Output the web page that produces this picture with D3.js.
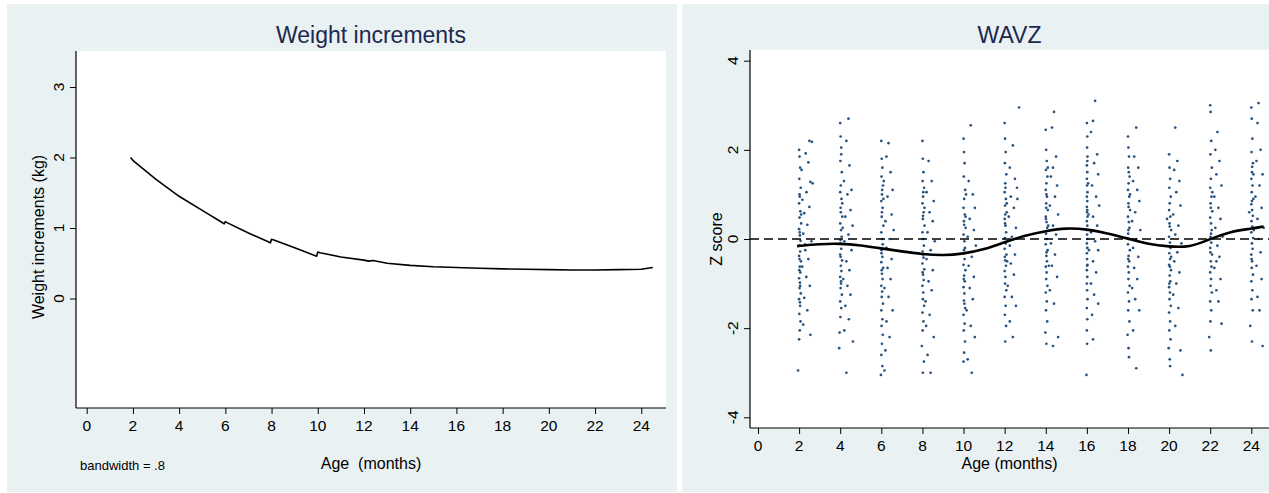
<!DOCTYPE html>
<html>
<head>
<meta charset="utf-8">
<script src="https://cdn.jsdelivr.net/npm/d3@7"></script>
<style>
    body { margin: 0; background: #ffffff; }
    text { font-family: "Liberation Sans", Arial, sans-serif; fill: #000; }
</style>
</head>
<body>
<div class="chart"></div>
<script>
// ---- Left panel data: weight increments (kg) by age (months)
var incAge = [1.9, 2.0, 2.1, 3, 4, 5, 5.95, 6.0, 6.05, 7, 7.95, 8.0, 8.1, 9, 9.95, 10.0, 10.1, 11,
    12, 12.2, 12.4, 13, 14, 15, 16, 17, 18, 19, 20, 21, 22, 23, 24, 24.5];
var incValue = [2.0, 1.96, 1.93, 1.69, 1.45, 1.25, 1.06, 1.09, 1.08, 0.93, 0.79, 0.84, 0.83, 0.72,
    0.60, 0.66, 0.65, 0.59, 0.545, 0.53, 0.54, 0.50, 0.47, 0.45, 0.44, 0.43, 0.42, 0.415, 0.41,
    0.405, 0.405, 0.41, 0.415, 0.44];
var incXTicks = [0, 2, 4, 6, 8, 10, 12, 14, 16, 18, 20, 22, 24];
var incYTicks = [0, 1, 2, 3];

// ---- Right panel data: WAVZ lowess line
var lowessAge = [1.9, 3, 4, 5, 6, 7, 8, 9, 10, 11, 12, 13, 14, 15, 16, 17, 18, 19, 20, 21, 22, 23, 24, 24.6];
var lowessZ = [-0.16, -0.11, -0.10, -0.14, -0.21, -0.28, -0.34, -0.37, -0.33, -0.24, -0.07, 0.08,
    0.18, 0.25, 0.22, 0.13, 0.01, -0.12, -0.17, -0.19, 0.00, 0.17, 0.23, 0.28];
var wavzXTicks = [0, 2, 4, 6, 8, 10, 12, 14, 16, 18, 20, 22, 24];
var wavzYTicks = [-4, -2, 0, 2, 4];

// ---- Right panel data: visit ages and the z scores seen at each visit, as [age offset, z]
var visitAges = [2, 4, 6, 8, 10, 12, 14, 16, 18, 20, 22, 24];
var visitPoints = [
    [[0,2.0],[0.02,1.85],[0.05,1.6],[0.01,1.35],[0.08,1.15],[0.03,0.95],[0,0.8],[0.06,0.62],[0.02,0.48],[0.1,0.35],[0,0.22],[0.04,0.08],[0.07,-0.04],[0.01,-0.14],[0.05,-0.28],[0,-0.38],[0.09,-0.5],[0.03,-0.62],[0.06,-0.75],[0,-0.88],[0.04,-0.98],[0.02,-1.1],[0.08,-1.22],[0,-1.35],[0.05,-1.5],[0.01,-1.68],[0.07,-1.85],[0.03,-2.05],[0,-2.25],[-0.05,-2.95],[0.1,0.55],[0.02,-0.45],[0.05,-1.05],[0.12,1.55],[0.5,2.2],[0.62,2.18],[0.32,1.92],[0.45,1.72],[0.55,1.28],[0.66,1.25],[0.36,1.05],[0.5,0.72],[0.25,0.58],[0.4,0.32],[0.2,0.12],[0.6,-0.05],[0.3,-0.25],[0.45,-0.45],[0.15,-0.62],[0.35,-0.85],[0.52,-1.05],[0.25,-1.32],[0.4,-1.6],[0.2,-1.92],[0.55,-2.15],[0.3,-0.12],[0.16,0.88],[0.03,0.15],[0.01,-0.7],[0.04,-1.42],[0.02,1.0]],
    [[0,2.6],[0.02,2.3],[0.05,2.05],[0.01,1.75],[0.08,1.5],[0.03,1.2],[0,1.05],[0.06,0.9],[0.02,0.7],[0.1,0.5],[0,0.35],[0.04,0.2],[0.07,0.05],[0.01,-0.1],[0.05,-0.22],[0,-0.35],[0.09,-0.48],[0.03,-0.6],[0.06,-0.72],[0,-0.85],[0.04,-0.95],[0.02,-1.1],[0.08,-1.25],[0,-1.4],[0.05,-1.55],[0.01,-1.75],[-0.03,-2.1],[-0.05,-2.45],[0.1,0.8],[0.02,-0.4],[0.05,1.9],[0.12,0.25],[0.4,2.7],[0.3,2.2],[0.45,1.65],[0.55,1.1],[0.35,1.0],[0.5,0.65],[0.25,0.5],[0.6,0.3],[0.4,0.1],[0.2,-0.05],[0.55,-0.25],[0.3,-0.5],[0.45,-0.7],[0.15,-0.9],[0.35,-1.05],[0.5,-1.25],[0.25,-1.5],[0.42,-1.8],[0.2,-2.05],[0.62,-2.3],[0.3,-3.0],[0.18,1.3],[0.03,0.6],[0.01,-0.02],[0.04,-1.0]],
    [[0,2.2],[0.02,1.8],[0.05,1.6],[0.01,1.4],[0.08,1.2],[0.03,1.0],[0,0.85],[0.06,0.7],[0.02,0.5],[0.1,0.3],[0,0.15],[0.04,0.0],[0.07,-0.12],[0.01,-0.25],[0.05,-0.4],[0,-0.52],[0.09,-0.65],[0.03,-0.78],[0.06,-0.9],[0,-1.05],[0.04,-1.18],[0.02,-1.3],[0.08,-1.45],[0,-1.6],[0.05,-1.8],[0.01,-1.95],[0.07,-2.15],[0.03,-2.35],[0,-2.6],[0.05,-2.85],[-0.02,-3.05],[0.1,0.9],[0.02,-0.7],[0.12,1.3],[0.35,2.15],[0.25,1.85],[0.45,1.5],[0.55,1.1],[0.3,0.95],[0.5,0.55],[0.2,0.4],[0.6,0.2],[0.4,0.0],[0.25,-0.2],[0.5,-0.45],[0.3,-0.65],[0.45,-0.9],[0.15,-1.1],[0.35,-1.3],[0.55,-1.6],[0.25,-1.85],[0.4,-2.2],[0.2,-2.5],[0.15,-2.95],[0.03,0.6],[0.01,-0.32],[0.04,1.1]],
    [[0,2.2],[0.02,1.8],[0.05,1.5],[0.01,1.3],[0.08,1.15],[0.03,0.95],[0,0.8],[0.06,0.6],[0.02,0.45],[0.1,0.3],[0,0.15],[0.04,0.0],[0.07,-0.15],[0.01,-0.28],[0.05,-0.42],[0,-0.55],[0.09,-0.68],[0.03,-0.8],[0.06,-0.92],[0,-1.05],[0.04,-1.2],[0.02,-1.35],[0.08,-1.5],[0,-1.65],[0.05,-1.85],[0.01,-2.05],[-0.03,-2.4],[0.07,-2.75],[0.02,-3.0],[0.1,0.7],[0.03,-0.35],[0.3,1.75],[0.45,1.3],[0.2,1.05],[0.55,0.85],[0.35,0.6],[0.5,0.4],[0.25,0.15],[0.6,-0.05],[0.4,-0.25],[0.2,-0.45],[0.5,-0.7],[0.3,-0.95],[0.45,-1.15],[0.15,-1.4],[0.35,-1.7],[0.55,-2.2],[0.25,-2.6],[0.4,-3.0],[0.18,-1.95],[0.03,0.52],[0.01,-0.75],[0.04,1.05]],
    [[0,2.25],[0.02,1.95],[0.05,1.7],[0.01,1.4],[0.08,1.1],[0.03,0.9],[0,0.7],[0.06,0.55],[0.02,0.4],[0.1,0.25],[0,0.1],[0.04,-0.05],[0.07,-0.2],[0.01,-0.32],[0.05,-0.45],[0,-0.58],[0.09,-0.7],[0.03,-0.82],[0.06,-0.95],[0,-1.08],[0.04,-1.22],[0.02,-1.38],[0.08,-1.55],[0,-1.7],[0.05,-1.9],[0.01,-2.05],[0.07,-2.3],[0.03,-2.55],[0,-2.75],[0.1,0.5],[0.02,-0.25],[0.12,1.0],[0.35,2.55],[0.25,1.3],[0.45,1.0],[0.55,0.7],[0.3,0.45],[0.5,0.2],[0.2,0.05],[0.6,-0.15],[0.4,-0.4],[0.25,-0.6],[0.5,-0.85],[0.3,-1.1],[0.45,-1.35],[0.15,-1.6],[0.35,-1.95],[0.55,-2.2],[0.4,-3.0],[0.2,-2.7],[0.03,0.32],[0.01,-0.9],[0.04,-1.45]],
    [[0,2.6],[0.02,2.25],[0.05,1.95],[0.01,1.7],[0.08,1.45],[0.03,1.25],[0,1.05],[0.06,0.9],[0.02,0.75],[0.1,0.6],[0,0.45],[0.04,0.3],[0.07,0.15],[0.01,0.02],[0.05,-0.1],[0,-0.22],[0.09,-0.35],[0.03,-0.48],[0.06,-0.6],[0,-0.72],[0.04,-0.85],[0.02,-1.0],[0.08,-1.15],[0,-1.3],[0.05,-1.5],[0.01,-1.7],[0.07,-1.95],[0.03,-2.3],[0.1,0.8],[0.02,0.35],[0.12,-0.5],[0.7,2.95],[0.4,2.1],[0.25,1.6],[0.5,1.35],[0.6,1.15],[0.3,0.95],[0.45,0.7],[0.2,0.5],[0.55,0.25],[0.35,0.05],[0.25,-0.15],[0.5,-0.35],[0.3,-0.55],[0.45,-0.8],[0.15,-1.05],[0.35,-1.3],[0.55,-1.5],[0.25,-1.85],[0.4,-2.2],[0.62,0.9],[0.03,0.55],[0.01,-0.4],[0.04,1.15]],
    [[0,2.45],[0.02,2.0],[0.05,1.75],[0.01,1.55],[0.08,1.4],[0.03,1.25],[0,1.1],[0.06,0.95],[0.02,0.8],[0.1,0.65],[0,0.5],[0.04,0.38],[0.07,0.25],[0.01,0.12],[0.05,0.0],[0,-0.12],[0.09,-0.25],[0.03,-0.38],[0.06,-0.5],[0,-0.62],[0.04,-0.75],[0.02,-0.9],[0.08,-1.05],[0,-1.2],[0.05,-1.4],[0.01,-1.6],[0.07,-1.85],[-0.02,-2.1],[0.03,-2.35],[0.1,1.6],[0.02,0.7],[0.12,0.3],[0.15,-0.6],[0.4,2.85],[0.3,2.5],[0.5,1.85],[0.35,1.6],[0.25,1.4],[0.55,1.2],[0.45,0.95],[0.2,0.75],[0.6,0.55],[0.35,0.3],[0.5,0.1],[0.25,-0.1],[0.45,-0.35],[0.3,-0.6],[0.55,-0.85],[0.2,-1.15],[0.4,-1.45],[0.6,-2.2],[0.35,-2.4],[0.03,1.0],[0.01,0.45],[0.04,-0.3]],
    [[0,2.6],[0.02,2.3],[0.01,2.05],[0.03,1.85],[0,1.65],[0.02,1.5],[0,1.35],[0.01,1.2],[0.03,1.05],[0,0.95],[0.02,0.85],[0,0.72],[0.01,0.6],[0.03,0.5],[0,0.4],[0.02,0.3],[0,0.2],[0.01,0.1],[0.03,0.0],[0,-0.1],[0.02,-0.2],[0,-0.32],[0.01,-0.45],[0.03,-0.58],[0,-0.7],[0.02,-0.85],[0,-1.0],[0.01,-1.15],[0.03,-1.35],[0,-1.55],[0.02,-1.8],[0,-2.05],[0.01,-2.35],[-0.02,-3.05],[0.06,1.25],[0.08,0.55],[0.1,-0.25],[0.4,3.1],[0.3,2.65],[0.2,2.4],[0.5,1.9],[0.35,1.7],[0.55,1.45],[0.25,1.2],[0.45,0.95],[0.6,0.75],[0.3,0.5],[0.5,0.3],[0.2,0.15],[0.4,-0.05],[0.55,-0.25],[0.3,-0.5],[0.45,-0.75],[0.2,-1.0],[0.35,-1.25],[0.55,-1.45],[0.25,-1.7],[0.3,-2.25],[0.02,0.65],[0.01,-0.6],[0.02,1.75]],
    [[0,2.3],[0.02,2.05],[0.05,1.85],[0.01,1.6],[0.08,1.4],[0.03,1.25],[0,1.1],[0.06,0.95],[0.02,0.8],[0.1,0.65],[0,0.5],[0.04,0.38],[0.07,0.25],[0.01,0.12],[0.05,0.0],[0,-0.12],[0.09,-0.25],[0.03,-0.38],[0.06,-0.5],[0,-0.62],[0.04,-0.75],[0.02,-0.9],[0.08,-1.05],[0,-1.2],[0.05,-1.4],[0.01,-1.6],[0.07,-1.85],[-0.02,-2.15],[0.03,-2.45],[0.05,-2.65],[0.1,1.0],[0.02,0.2],[0.4,2.5],[0.3,1.85],[0.5,1.6],[0.25,1.3],[0.45,1.1],[0.55,0.85],[0.35,0.6],[0.2,0.4],[0.6,0.2],[0.4,0.0],[0.25,-0.2],[0.5,-0.4],[0.3,-0.65],[0.45,-0.9],[0.2,-1.1],[0.35,-1.35],[0.55,-1.6],[0.25,-2.05],[0.4,-2.9],[0.03,0.72],[0.01,-0.45],[0.04,1.5]],
    [[0,1.9],[0.02,1.6],[0.05,1.35],[0.01,1.15],[0.08,0.95],[0.03,0.8],[0,0.65],[0.06,0.5],[0.02,0.35],[0.1,0.2],[0,0.05],[0.04,-0.08],[0.07,-0.2],[0.01,-0.32],[0.05,-0.45],[0,-0.58],[0.09,-0.7],[0.03,-0.82],[0.06,-0.95],[0,-1.08],[0.04,-1.2],[0.02,-1.35],[0.08,-1.5],[0,-1.65],[0.05,-1.85],[0.01,-2.05],[0.07,-2.25],[-0.02,-2.45],[0.03,-2.7],[0.05,-2.85],[-0.1,0.45],[0.1,-0.4],[0.3,2.5],[0.4,1.75],[0.25,1.55],[0.5,1.3],[0.35,1.05],[0.55,0.75],[0.2,0.55],[0.45,0.3],[0.3,0.1],[0.6,-0.1],[0.4,-0.3],[0.25,-0.5],[0.5,-0.75],[0.35,-1.0],[0.2,-1.25],[0.45,-1.55],[0.3,-1.95],[0.55,-2.5],[0.65,-3.05],[0.03,0.28],[0.01,-1.0],[0.04,-0.62]],
    [[0,3.0],[0.02,2.85],[0.05,2.2],[0.01,1.9],[0.08,1.6],[0.03,1.35],[0,1.15],[0.06,0.95],[0.02,0.8],[0.1,0.62],[0,0.48],[0.04,0.35],[0.07,0.2],[0.01,0.05],[0.05,-0.08],[0,-0.2],[0.09,-0.35],[0.03,-0.5],[0.06,-0.62],[0,-0.75],[0.04,-0.9],[0.02,-1.05],[0.08,-1.2],[0,-1.4],[0.05,-1.6],[0.01,-1.85],[-0.05,-2.2],[0.03,-2.5],[0.1,1.05],[0.35,2.4],[0.25,2.0],[0.45,1.75],[0.3,1.45],[0.55,1.2],[0.2,0.95],[0.4,0.7],[0.5,0.45],[0.25,0.25],[0.6,0.05],[0.35,-0.15],[0.45,-0.4],[0.2,-0.65],[0.5,-0.9],[0.3,-1.15],[0.4,-1.4],[0.55,-1.9],[0.3,-0.5],[0.03,0.7],[0.01,-0.3],[0.04,0.12]],
    [[0,2.95],[0.02,2.7],[0.05,2.25],[0.01,1.95],[0.08,1.7],[0.03,1.5],[0,1.35],[0.06,1.2],[0.02,1.05],[0.1,0.9],[0,0.78],[0.04,0.65],[0.07,0.52],[0.01,0.4],[0.05,0.28],[0,0.15],[0.09,0.02],[0.03,-0.1],[0.06,-0.22],[0,-0.35],[0.04,-0.5],[0.02,-0.65],[0.08,-0.8],[0,-0.95],[0.05,-1.15],[0.01,-1.35],[0.07,-1.6],[-0.05,-1.95],[0.03,-2.3],[-0.1,0.6],[0.1,1.45],[0.12,0.2],[0.35,3.05],[0.3,2.6],[0.45,2.0],[0.25,1.75],[0.55,1.45],[0.4,1.2],[0.2,0.95],[0.5,0.7],[0.3,0.45],[0.6,0.25],[0.35,0.0],[0.45,-0.3],[0.25,-0.6],[0.5,-0.9],[0.3,-1.3],[0.55,-2.4],[0.4,-1.6],[0.03,0.85],[0.01,-0.45],[0.04,1.62]]
];

var bgColor = "#e9f1f3";
var titleColor = "#1b2a4e";
var dotColor = "#27527d";

var svg = d3.select(".chart")
    .append("svg")
    .attr("width", 1269)
    .attr("height", 493);

// Panel backgrounds
svg.append("rect").attr("x", 7).attr("y", 4).attr("width", 670).attr("height", 488).attr("fill", bgColor);
svg.append("rect").attr("x", 682).attr("y", 4).attr("width", 587).attr("height", 488).attr("fill", bgColor);

// Draws the stata-like axes for one plot region
function drawAxes(box, xScale, yScale, xTicks, yTicks, xLabelY) {
    svg.append("rect")
        .attr("x", box.left).attr("y", box.top)
        .attr("width", box.right - box.left).attr("height", box.bottom - box.top)
        .attr("fill", "#fff");

    var bottomAxis = d3.axisBottom(xScale).tickValues(xTicks).tickSize(6).tickPadding(0).tickSizeOuter(0);
    var xAxis = svg.append("g")
        .attr("transform", `translate(0, ${box.bottom})`)
        .call(bottomAxis);
    xAxis.select(".domain").remove();
    xAxis.selectAll("text").remove();
    xAxis.selectAll("line").attr("stroke", "#000");
    svg.append("line")
        .attr("x1", box.left).attr("x2", box.right)
        .attr("y1", box.bottom).attr("y2", box.bottom)
        .attr("stroke", "#000").attr("stroke-width", 1.2);
    svg.selectAll(null)
        .data(xTicks)
        .enter()
        .append("text")
        .attr("x", d => xScale(d))
        .attr("y", xLabelY)
        .attr("text-anchor", "middle")
        .attr("font-size", "15.5px")
        .text(d => d);

    var leftAxis = d3.axisLeft(yScale).tickValues(yTicks).tickSize(6).tickSizeOuter(0);
    var yAxis = svg.append("g")
        .attr("transform", `translate(${box.left}, 0)`)
        .call(leftAxis);
    yAxis.select(".domain").remove();
    yAxis.selectAll("text").remove();
    yAxis.selectAll("line").attr("stroke", "#000");
    svg.append("line")
        .attr("x1", box.left).attr("x2", box.left)
        .attr("y1", box.top).attr("y2", box.bottom)
        .attr("stroke", "#000").attr("stroke-width", 1.2);
    svg.selectAll(null)
        .data(yTicks)
        .enter()
        .append("text")
        .attr("transform", d => `translate(${box.left - 12}, ${yScale(d)}) rotate(-90)`)
        .attr("text-anchor", "middle")
        .attr("font-size", "15.5px")
        .text(d => d);
}

// ---------------- Left panel: Weight increments
var leftBox = {left: 76, right: 666, top: 51, bottom: 408};
var xInc = d3.scaleLinear().domain([-0.463, 25.07]).range([leftBox.left, leftBox.right]);
var yInc = d3.scaleLinear().domain([-1.553, 3.511]).range([leftBox.bottom, leftBox.top]);

drawAxes(leftBox, xInc, yInc, incXTicks, incYTicks, 431);

var incLine = d3.line()
    .x((d, i) => xInc(incAge[i]))
    .y(d => yInc(d));

svg.append("path")
    .datum(incValue)
    .attr("d", incLine)
    .attr("fill", "none")
    .attr("stroke", "#000")
    .attr("stroke-width", 1.6)
    .attr("stroke-linejoin", "round");

svg.append("text")
    .attr("x", (leftBox.left + leftBox.right) / 2)
    .attr("y", 43)
    .attr("text-anchor", "middle")
    .attr("font-size", "23px")
    .style("fill", titleColor)
    .text("Weight increments");

svg.append("text")
    .attr("transform", `translate(44, 237) rotate(-90)`)
    .attr("text-anchor", "middle")
    .attr("font-size", "16px")
    .text("Weight increments (kg)");

svg.append("text")
    .attr("x", (leftBox.left + leftBox.right) / 2)
    .attr("y", 469)
    .attr("text-anchor", "middle")
    .attr("font-size", "16px")
    .style("white-space", "pre")
    .text("Age  (months)");

svg.append("text")
    .attr("x", 80)
    .attr("y", 470)
    .attr("font-size", "13px")
    .text("bandwidth = .8");

// ---------------- Right panel: WAVZ
var rightBox = {left: 750, right: 1269, top: 50, bottom: 428};
var xZ = d3.scaleLinear().domain([-0.389, 24.86]).range([rightBox.left, rightBox.right]);
var yZ = d3.scaleLinear().domain([-4.24, 4.24]).range([rightBox.bottom, rightBox.top]);

drawAxes(rightBox, xZ, yZ, wavzXTicks, wavzYTicks, 451);

// flatten visits into points
var wavzData = [];
visitAges.forEach(function(age, i) {
    visitPoints[i].forEach(function(p) {
        wavzData.push({age: age + p[0], z: p[1]});
    });
});

svg.append("g")
    .selectAll("circle")
    .data(wavzData)
    .enter()
    .append("circle")
    .attr("cx", d => xZ(d.age))
    .attr("cy", d => yZ(d.z))
    .attr("r", 1.35)
    .attr("fill", dotColor);

// reference line at zero
svg.append("line")
    .attr("x1", rightBox.left).attr("x2", rightBox.right)
    .attr("y1", yZ(0)).attr("y2", yZ(0))
    .attr("stroke", "#000")
    .attr("stroke-width", 1.3)
    .attr("stroke-dasharray", "9,5");

var lowessLine = d3.line()
    .x((d, i) => xZ(lowessAge[i]))
    .y(d => yZ(d))
    .curve(d3.curveBasis);

svg.append("path")
    .datum(lowessZ)
    .attr("d", lowessLine)
    .attr("fill", "none")
    .attr("stroke", "#000")
    .attr("stroke-width", 2.6);

svg.append("text")
    .attr("x", (rightBox.left + rightBox.right) / 2)
    .attr("y", 43)
    .attr("text-anchor", "middle")
    .attr("font-size", "23px")
    .style("fill", titleColor)
    .text("WAVZ");

svg.append("text")
    .attr("transform", `translate(722, ${(rightBox.top + rightBox.bottom) / 2}) rotate(-90)`)
    .attr("text-anchor", "middle")
    .attr("font-size", "16px")
    .text("Z score");

svg.append("text")
    .attr("x", (rightBox.left + rightBox.right) / 2)
    .attr("y", 469)
    .attr("text-anchor", "middle")
    .attr("font-size", "16px")
    .text("Age (months)");
</script>
</body>
</html>
